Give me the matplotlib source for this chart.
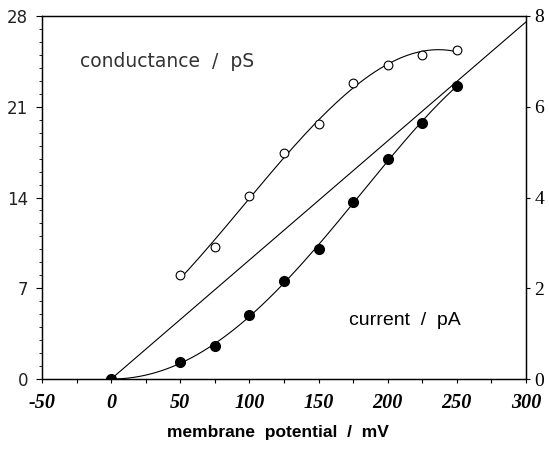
import numpy as np
import matplotlib.pyplot as plt
from matplotlib.ticker import MultipleLocator

plt.rcParams['axes.unicode_minus'] = False

# membrane potential (mV)
potencial = [50, 75, 100, 125, 150, 175, 200, 225, 250]
# conductance (pS), open circles, left axis
condutancia = [8.0, 10.2, 14.1, 17.4, 19.65, 22.8, 24.2, 25.0, 25.4]
# current (pA), filled circles, right axis
potencial_i = [0, 50, 75, 100, 125, 150, 175, 200, 225, 250]
corrente = [0.0, 0.38, 0.73, 1.40, 2.17, 2.87, 3.89, 4.85, 5.65, 6.46]
# straight reference line (pA)
reta_v = [0, 300]
reta_i = [0, 7.87]

xticks = [-50, 0, 50, 100, 150, 200, 250, 300]
yticks_esq = [0, 7, 14, 21, 28]
yticks_dir = [0, 2, 4, 6, 8]

fig = plt.figure(figsize=(5.49, 4.53), dpi=100)
ax = fig.add_axes([42 / 549, 1 - 379 / 453, 484 / 549, 363 / 453])
ax2 = ax.twinx()

lw = 0.8

# conductance: cubic fit + open circles
v = np.array(potencial, dtype=float)
coef_g = np.polyfit(v, np.array(condutancia), 3)
vv = np.linspace(v.min(), v.max(), 300)
ax.plot(vv, np.polyval(coef_g, vv), color="black", linewidth=lw, zorder=2)
ax.plot(potencial, condutancia, "o", markersize=6.3, markerfacecolor="white",
        markeredgecolor="black", markeredgewidth=0.8, zorder=3)

# current: fitted curve (flat at 0) + filled circles
vi = np.array(potencial_i, dtype=float)
ii = np.array(corrente)
A = np.vstack([vi ** 2, vi ** 3, vi ** 4]).T
coef_i, *_ = np.linalg.lstsq(A, ii, rcond=None)
vv2 = np.linspace(0, vi.max(), 300)
curva_i = coef_i[0] * vv2 ** 2 + coef_i[1] * vv2 ** 3 + coef_i[2] * vv2 ** 4
ax2.plot(vv2, curva_i, color="black", linewidth=lw, zorder=2)
ax2.plot(potencial_i, corrente, "o", markersize=7, color="black", zorder=3)
ax2.plot(reta_v, reta_i, color="black", linewidth=lw, zorder=2)

ax.set_xlim(-50, 300)
ax.set_ylim(0, 28)
ax2.set_ylim(0, 8)

ax.set_xticks(xticks)
ax.set_xticklabels([str(t) for t in xticks], fontfamily="Liberation Serif",
                   fontstyle="italic", fontweight="bold", fontsize=14.5)
ax.xaxis.set_minor_locator(MultipleLocator(25))
ax.set_yticks(yticks_esq)
ax.set_yticklabels([str(t) for t in yticks_esq], fontfamily="DejaVu Sans",
                   fontsize=12, color="#222222")
ax.yaxis.set_minor_locator(MultipleLocator(1))
ax2.set_yticks(yticks_dir)
ax2.set_yticklabels([str(t) for t in yticks_dir], fontfamily="Liberation Serif",
                    fontsize=14)

ax.tick_params(axis="x", which="major", direction="out", length=3, width=0.8, pad=7)
ax.tick_params(axis="x", which="minor", direction="out", length=3, width=0.8)
ax.tick_params(axis="y", which="major", direction="out", length=4, width=0.8, pad=6)
ax.tick_params(axis="y", which="minor", direction="out", length=2.5, width=0.6)
ax2.tick_params(axis="y", which="major", direction="out", length=3, width=0.8, pad=3)

for a in (ax, ax2):
    for s in a.spines.values():
        s.set_linewidth(0.9)

ax.text(0.078, 0.875, "conductance  /  pS", transform=ax.transAxes,
        fontfamily="DejaVu Sans", fontsize=13.5, color="#333333", ha="left", va="center")
ax.text(0.635, 0.16, "current  /  pA", transform=ax.transAxes,
        fontfamily="Liberation Sans", fontsize=14, ha="left", va="center")
fig.text(278 / 549, 1 - 433 / 453, "membrane  potential  /  mV", fontfamily="Liberation Sans",
         fontweight="bold", fontsize=12.5, ha="center", va="center")

fig.savefig("out.png", dpi=100)
